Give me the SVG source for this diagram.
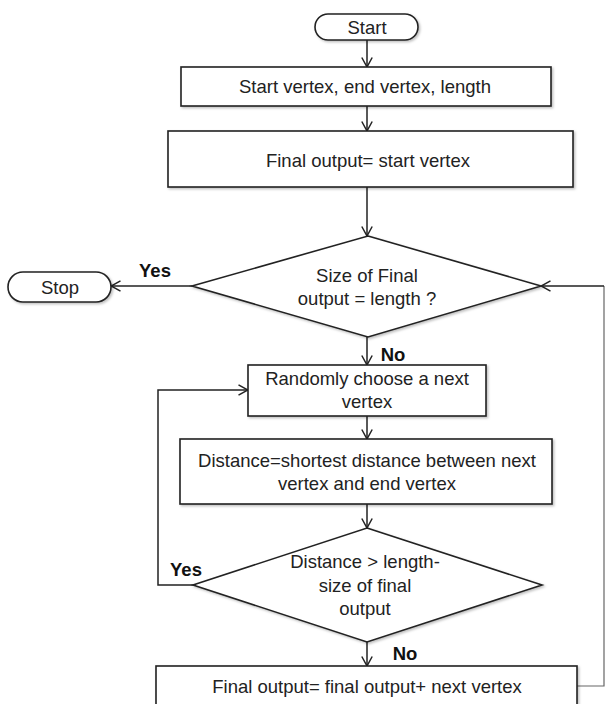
<svg xmlns="http://www.w3.org/2000/svg" width="608" height="704" viewBox="0 0 608 704">
<style>
.shape{fill:#fff;stroke:#222;stroke-width:1.6;filter:url(#sh)}
.t{font-family:"Liberation Sans",Arial,sans-serif;font-size:18.5px;fill:#222;text-anchor:middle;dominant-baseline:central}
.b{font-weight:bold;fill:#111}
.c{fill:none;stroke:#222;stroke-width:1.5}
.thin{fill:none;stroke:#666;stroke-width:1.2}
</style>
<defs>
<filter id="sh" x="-5%" y="-10%" width="110%" height="130%">
<feDropShadow dx="1.5" dy="1.5" stdDeviation="1" flood-color="#000" flood-opacity="0.25"/>
</filter>
<marker id="ah" viewBox="0 0 10 12" refX="10" refY="6" markerWidth="10" markerHeight="12" markerUnits="userSpaceOnUse" orient="auto">
<path d="M0.5,0.8 L10,6 L0.5,11.2" fill="none" stroke="#222" stroke-width="1.5"/>
</marker>
</defs>
<rect width="608" height="704" fill="#fff"/>

<g id="connectors">
<line class="c" x1="367" y1="40" x2="367" y2="67" marker-end="url(#ah)"/>
<line class="c" x1="367" y1="106" x2="367" y2="131" marker-end="url(#ah)"/>
<line class="c" x1="367" y1="187" x2="367" y2="236" marker-end="url(#ah)"/>
<line class="c" x1="192" y1="286" x2="111" y2="286" marker-end="url(#ah)"/>
<line class="c" x1="367" y1="337" x2="367" y2="365" marker-end="url(#ah)"/>
<line class="c" x1="367" y1="416" x2="367" y2="439" marker-end="url(#ah)"/>
<line class="c" x1="367" y1="504" x2="367" y2="528" marker-end="url(#ah)"/>
<polyline class="c" points="193,585 158,585 158,390 248,390" marker-end="url(#ah)"/>
<line class="c" x1="367" y1="642" x2="367" y2="666" marker-end="url(#ah)"/>
<polyline class="thin" points="577,686 604,686 604,286"/>
<line class="c" x1="604" y1="286" x2="541" y2="286" marker-end="url(#ah)"/>
<text class="t b" x="155" y="270">Yes</text>
<text class="t b" x="393" y="354">No</text>
<text class="t b" x="186" y="569">Yes</text>
<text class="t b" x="405" y="653">No</text>
</g>

<g id="start">
<rect class="shape" x="315" y="14" width="103" height="26" rx="13"/>
<text class="t" x="367" y="27">Start</text>
</g>
<g id="input">
<rect class="shape" x="181" y="67" width="370" height="39"/>
<text class="t" x="365" y="86">Start vertex, end vertex, length</text>
</g>
<g id="init">
<rect class="shape" x="168" y="131" width="405" height="56"/>
<text class="t" x="368" y="160">Final output= start vertex</text>
</g>
<g id="check-size">
<polygon class="shape" points="368,236 541,286 368,337 192,286"/>
<text class="t" x="367" y="275">Size of Final</text>
<text class="t" x="367" y="298">output = length ?</text>
</g>
<g id="stop">
<rect class="shape" x="8" y="272" width="103" height="30" rx="15"/>
<text class="t" x="60" y="287">Stop</text>
</g>
<g id="choose">
<rect class="shape" x="248" y="365" width="238" height="51"/>
<text class="t" x="367" y="378">Randomly choose a next</text>
<text class="t" x="367" y="401">vertex</text>
</g>
<g id="distance">
<rect class="shape" x="180" y="439" width="372" height="65"/>
<text class="t" x="367" y="460">Distance=shortest distance between next</text>
<text class="t" x="367" y="483">vertex and end vertex</text>
</g>
<g id="check-distance">
<polygon class="shape" points="367,528 542,585 367,642 193,585"/>
<text class="t" x="365" y="561">Distance &gt; length-</text>
<text class="t" x="365" y="585">size of final</text>
<text class="t" x="365" y="608">output</text>
</g>
<g id="append">
<rect class="shape" x="156" y="666" width="421" height="50"/>
<text class="t" x="367" y="686">Final output= final output+ next vertex</text>
</g>
</svg>
